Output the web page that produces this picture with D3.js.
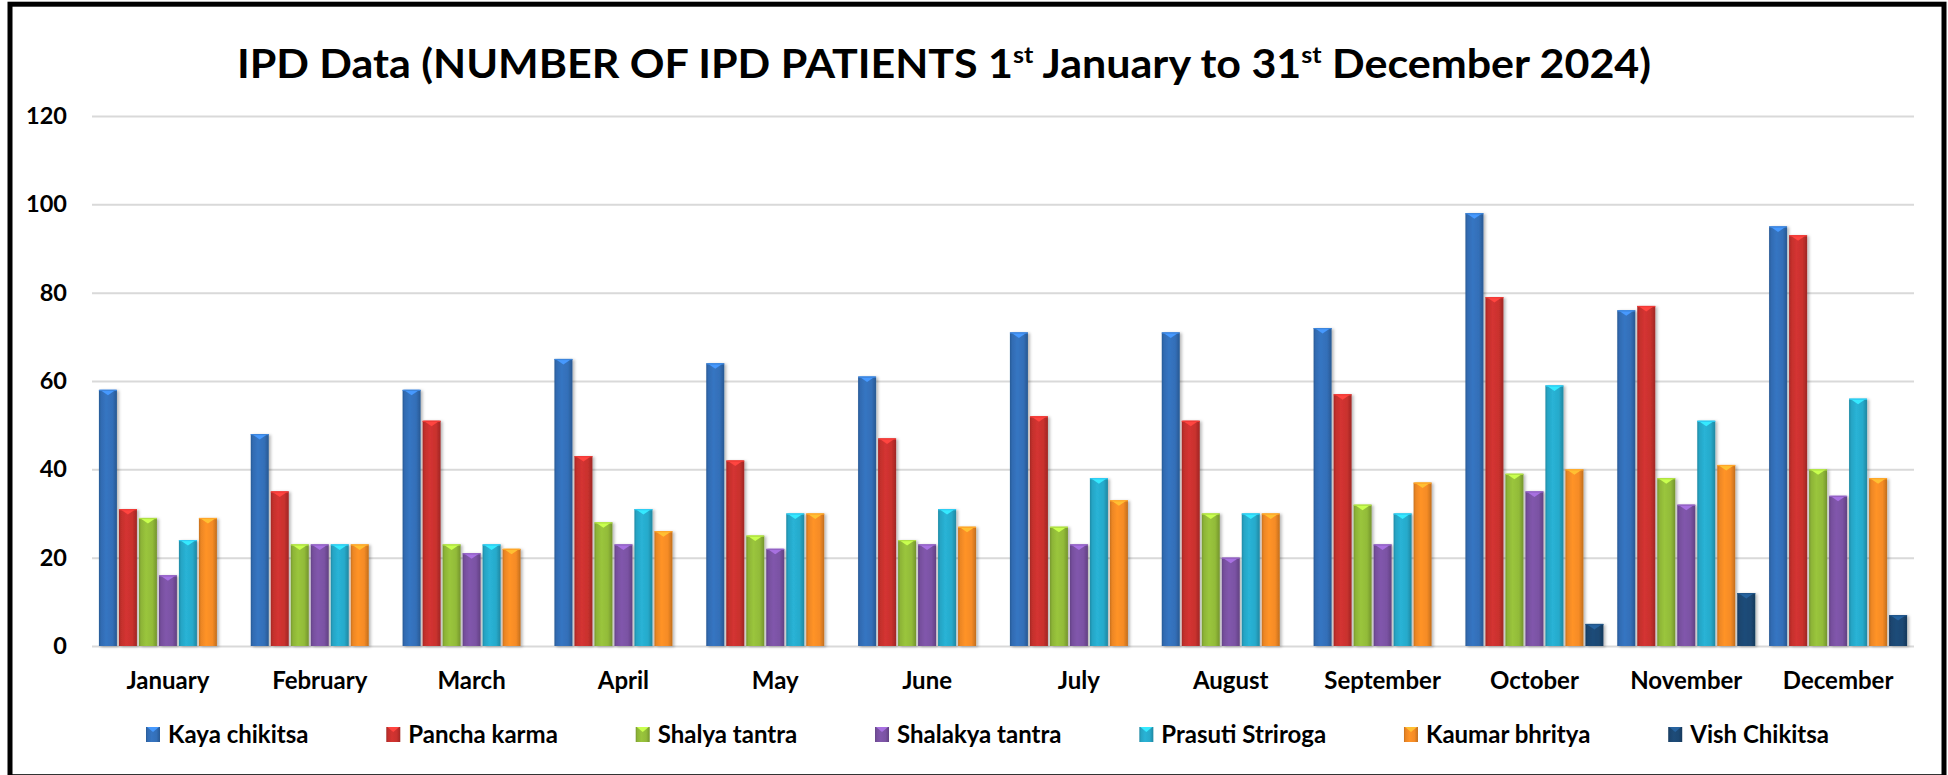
<!DOCTYPE html>
<html><head><meta charset="utf-8">
<script src="https://cdn.jsdelivr.net/npm/d3@7"></script>
<style>
body{margin:0;background:#fff}
svg{display:block}
text{font-family:Lato,"Open Sans",sans-serif;font-weight:700;fill:#000}
</style>
</head><body>
<svg id="c" width="1948" height="775"></svg>
<script>
const months = ["January","February","March","April","May","June","July","August","September","October","November","December"];
const seriesNames = ["Kaya chikitsa","Pancha karma","Shalya tantra","Shalakya tantra","Prasuti Striroga","Kaumar bhritya","Vish Chikitsa"];
const kaya     = [58,48,58,65,64,61,71,71,72,98,76,95];
const pancha   = [31,35,51,43,42,47,52,51,57,79,77,93];
const shalya   = [29,23,23,28,25,24,27,30,32,39,38,40];
const shalakya = [16,23,21,23,22,23,23,20,23,35,32,34];
const prasuti  = [24,23,23,31,30,31,38,30,30,59,51,56];
const kaumar   = [29,23,22,26,30,27,33,30,37,40,41,38];
const vish     = [0,0,0,0,0,0,0,0,0,5,12,7];
const yTicks = [0,20,40,60,80,100,120];
const seriesColors = ["#336fb8","#c9312e","#92bb39","#7a52a3","#27aacb","#f58b25","#1c4873"];

const seriesValues = [kaya,pancha,shalya,shalakya,prasuti,kaumar,vish];
const svg = d3.select("#c");
const defs = svg.append("defs");

// frame
svg.append("rect").attr("x",10).attr("y",4.2).attr("width",1934).attr("height",772.5)
  .attr("fill","none").attr("stroke","#000").attr("stroke-width",5);

const x0 = d3.scaleBand().domain(months).range([92,1914]).paddingInner(0.078).paddingOuter(0.039);
const x1 = d3.scaleBand().domain(seriesNames).range([0,x0.bandwidth()]).paddingInner(0.1).paddingOuter(0.05);
const y = d3.scaleLinear().domain([0,120]).range([646,116]);

// gradients
seriesColors.forEach((c,i)=>{
  const g = defs.append("linearGradient").attr("id","g"+i).attr("x1","0").attr("x2","1").attr("y1","0").attr("y2","0");
  const base = d3.color(c);
  g.append("stop").attr("offset","0").attr("stop-color",base.darker(0.6));
  g.append("stop").attr("offset","0.12").attr("stop-color",base.darker(0.1));
  g.append("stop").attr("offset","0.4").attr("stop-color",base.brighter(0.15));
  g.append("stop").attr("offset","0.75").attr("stop-color",base);
  g.append("stop").attr("offset","1").attr("stop-color",base.darker(0.65));
});
const f = defs.append("filter").attr("id","sh").attr("x","-20%").attr("y","-5%").attr("width","150%").attr("height","115%");
f.append("feDropShadow").attr("dx",2).attr("dy",1).attr("stdDeviation",1.6).attr("flood-color","#000").attr("flood-opacity",0.28);

// grid + y axis
const yAxis = svg.append("g").attr("transform","translate(92,0)")
  .call(d3.axisLeft(y).tickValues(yTicks).tickSize(-(1914-92)).tickPadding(25));
yAxis.select(".domain").remove();
yAxis.selectAll(".tick line").attr("stroke","#d9d9d9").attr("stroke-width",2);
yAxis.selectAll(".tick text").attr("font-size",23.5).attr("font-family","Lato").attr("font-weight",700).attr("fill","#000");

// x axis
const xAxis = svg.append("g").attr("transform","translate(0,646)")
  .call(d3.axisBottom(x0).tickSize(0).tickPadding(25.5));
xAxis.select(".domain").remove();
xAxis.selectAll(".tick text").attr("font-size",24).attr("font-family","Lato").attr("font-weight",700).attr("fill","#000");

// bars
const rows = [];
months.forEach((m,mi)=>seriesNames.forEach((s,si)=>{
  if (seriesValues[si][mi] > 0) rows.push({m, s, si, v: seriesValues[si][mi]});
}));
const barG = svg.append("g").attr("filter","url(#sh)");
const bars = barG.selectAll("g.bar").data(rows).join("g").attr("class","bar");
bars.append("rect")
  .attr("x",d=>x0(d.m)+x1(d.s))
  .attr("y",d=>y(d.v))
  .attr("width",x1.bandwidth())
  .attr("height",d=>y(0)-y(d.v))
  .attr("fill",d=>`url(#g${d.si})`);
bars.append("path")
  .attr("d",d=>{
    const xl = x0(d.m)+x1(d.s), w = x1.bandwidth(), t = y(d.v);
    return `M${xl+1},${t}L${xl+w-1},${t}L${xl+w/2},${t+5.5}Z`;
  })
  .attr("fill",d=>d3.color(seriesColors[d.si]).brighter(0.9));
bars.append("rect")
  .attr("x",d=>x0(d.m)+x1(d.s))
  .attr("y",d=>y(d.v))
  .attr("width",x1.bandwidth())
  .attr("height",1.2)
  .attr("fill",d=>d3.color(seriesColors[d.si]).brighter(0.5));

// title
const title = svg.append("text").attr("x",944).attr("y",78.3).attr("text-anchor","middle").attr("font-size",39.5);
title.append("tspan").text("IPD Data (NUMBER OF IPD PATIENTS 1");
title.append("tspan").text("st").attr("font-size",23).attr("dy",-15);
title.append("tspan").text(" January to 31").attr("dy",15);
title.append("tspan").text("st").attr("font-size",23).attr("dy",-15);
title.append("tspan").text(" December 2024)").attr("dy",15);
const tw = title.node().getBBox().width;
const sx = 1415 / tw;
title.attr("transform",`translate(944,0) scale(${sx},1) translate(-944,0)`);

// legend
const leg = svg.append("g");
const items = leg.selectAll("g").data(seriesNames).join("g");
items.append("text").attr("font-size",24).attr("y",742.5).text(d=>d);
const widths = items.select("text").nodes().map(n=>n.getComputedTextLength());
const legStart = 146, legEnd = 1829, boxW = 14, txtOff = 22;
const gap = (legEnd - legStart - d3.sum(widths) - txtOff*seriesNames.length)/(seriesNames.length-1);
let cx = legStart;
const pos = widths.map(w=>{const p=cx; cx += txtOff + w + gap; return p;});
items.attr("transform",(d,i)=>`translate(${pos[i]},0)`);
items.select("text").attr("x",txtOff);
items.insert("rect","text").attr("x",0).attr("y",727).attr("width",boxW).attr("height",15)
  .attr("fill",(d,i)=>`url(#g${i})`);
items.insert("path","text").attr("d",`M1,727L${boxW-1},727L${boxW/2},732Z`)
  .attr("fill",(d,i)=>d3.color(seriesColors[i]).brighter(0.9));
</script>
</body></html>
